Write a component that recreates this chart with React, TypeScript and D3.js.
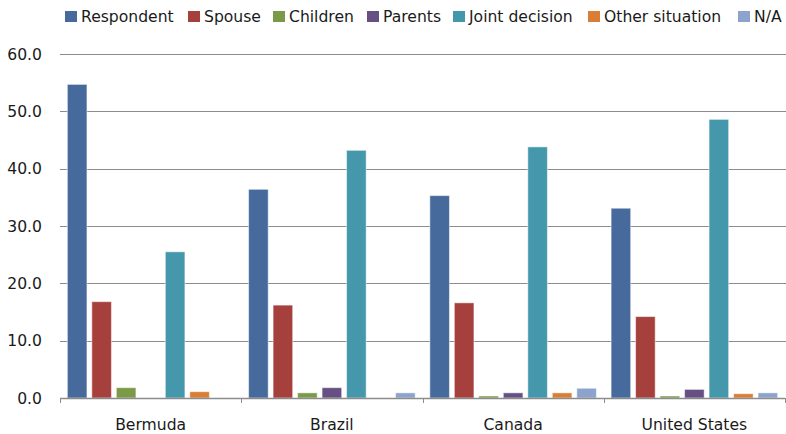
import React from "react";
import * as d3 from "d3";

const countries = ["Bermuda", "Brazil", "Canada", "United States"];
const seriesNames = ["Respondent", "Spouse", "Children", "Parents", "Joint decision", "Other situation", "N/A"];
const seriesColors = ["#466A9B", "#A5403D", "#7B9A48", "#654F83", "#4597AB", "#D97E34", "#8DA3CB"];
// values per series, one per country
const respondent = [54.7, 36.4, 35.3, 33.1];
const spouse = [16.8, 16.2, 16.6, 14.2];
const children = [1.8, 0.9, 0.35, 0.35];
const parents = [0, 1.8, 0.9, 1.5];
const jointDecision = [25.5, 43.2, 43.8, 48.6];
const otherSituation = [1.1, 0, 0.9, 0.75];
const na = [0, 0.9, 1.7, 0.9];
const yTicks = [0, 10, 20, 30, 40, 50, 60];

const values = [respondent, spouse, children, parents, jointDecision, otherSituation, na];

const W = 786;
const H = 434;
const FONT = "'DejaVu Sans', sans-serif";
const FS = 15.6;

export default function App() {
  const left = 60;
  const right = 785;
  const top = 54;
  const bottom = 398;
  const x = d3.scaleBand<string>().domain(countries).range([left, right]).padding(0);
  const xs = d3
    .scaleBand<number>()
    .domain(d3.range(seriesNames.length))
    .range([0, x.bandwidth()])
    .paddingInner(0.2)
    .paddingOuter(0.3);
  const y = d3.scaleLinear().domain([0, 60]).range([bottom, top]);

  const legendX = [65, 188, 273, 367, 453, 588, 738];

  return (
    <svg
      width={W}
      height={H}
      style={{ display: "block", background: "#fff", position: "absolute", left: 0, top: 0 }}
      fontFamily={FONT}
    >
      {/* gridlines */}
      {yTicks.filter((t) => t > 0).map((t) => (
        <line key={t} x1={left} x2={W} y1={Math.round(y(t)) + 0.5} y2={Math.round(y(t)) + 0.5} stroke="#8c8c8c" strokeWidth={1} />
      ))}
      {/* y labels */}
      {yTicks.map((t) => (
        <text key={t} x={42} y={y(t) + 5.5} textAnchor="end" fontSize={FS} fill="#1a1a1a">
          {t.toFixed(1)}
        </text>
      ))}
      {/* bars */}
      {values.map((arr, si) =>
        arr.map((v, ci) =>
          v > 0 ? (
            <rect
              key={`${si}-${ci}`}
              x={(x(countries[ci]) as number) + (xs(si) as number)}
              y={y(v)}
              width={xs.bandwidth()}
              height={bottom - y(v)}
              fill={seriesColors[si]}
              stroke="#ffffff"
              strokeOpacity={0.5}
              strokeWidth={1}
            />
          ) : null
        )
      )}
      {/* x axis */}
      <line x1={left} x2={right} y1={bottom + 0.5} y2={bottom + 0.5} stroke="#8c8c8c" strokeWidth={1.5} />
      {[...countries.map((c) => x(c) as number), right].map((px, i) => (
        <line key={i} x1={Math.round(px) + 0.5} x2={Math.round(px) + 0.5} y1={bottom} y2={bottom + 5} stroke="#8c8c8c" strokeWidth={1} />
      ))}
      {countries.map((c) => (
        <text key={c} x={(x(c) as number) + x.bandwidth() / 2} y={430} textAnchor="middle" fontSize={FS} fill="#1a1a1a">
          {c}
        </text>
      ))}
      {/* legend */}
      {seriesNames.map((s, i) => (
        <g key={s}>
          <rect x={legendX[i]} y={11} width={12} height={11} fill={seriesColors[i]} />
          <text x={legendX[i] + 16} y={21.5} fontSize={FS} fill="#1a1a1a">
            {s}
          </text>
        </g>
      ))}
    </svg>
  );
}
